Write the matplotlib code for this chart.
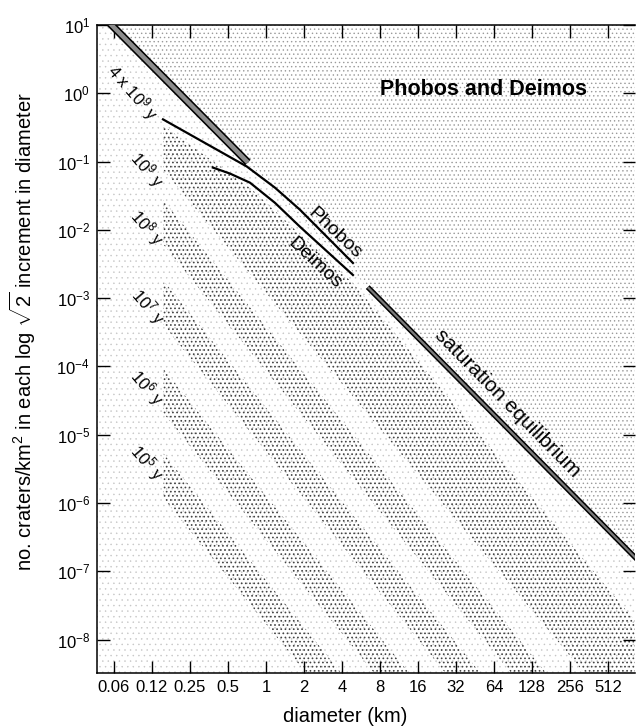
import matplotlib
matplotlib.use("Agg")
import matplotlib.pyplot as plt
import numpy as np
from matplotlib.ticker import NullLocator

plt.rcParams['font.family'] = ['Liberation Sans', 'DejaVu Sans']
plt.rcParams['mathtext.fontset'] = 'custom'
plt.rcParams['mathtext.rm'] = 'Liberation Sans'
plt.rcParams['mathtext.it'] = 'Liberation Sans:italic'
plt.rcParams['mathtext.bf'] = 'Liberation Sans:bold'

# axis ticks
diam_ticks = [0.0625, 0.125, 0.25, 0.5, 1, 2, 4, 8, 16, 32, 64, 128, 256, 512]
diam_labels = ['0.06', '0.12', '0.25', '0.5', '1', '2', '4', '8',
               '16', '32', '64', '128', '256', '512']
dens_exp = [1, 0, -1, -2, -3, -4, -5, -6, -7, -8]

# saturation equilibrium line (km, craters/km^2)
sat_D = [0.045, 0.72, 6.4, 900]
sat_N = [17, 0.097, 1.45e-3, 1.4e-7]

# observed curves
phobos_D = [0.153, 0.707, 1.178, 1.86, 4.89]
phobos_N = [0.415, 0.0844, 0.0415, 0.0197, 0.00327]
deimos_D = [0.380, 0.519, 0.747, 1.178, 1.86, 4.89]
deimos_N = [0.0816, 0.0667, 0.0491, 0.0249, 0.0111, 0.00218]

# isochron bands: upper and lower edges
band_ages = ['1e9', '1e8', '1e7', '1e6', '1e5']
band_up_D = [[0.153, 0.747, 4.89, 2900], [0.153, 256], [0.153, 77], [0.153, 21], [0.153, 6.1]]
band_up_N = [[0.338, 0.0415, 1.66e-3, 1.2e-9], [0.0276, 1.2e-9], [1.84e-3, 1.2e-9],
             [9.35e-5, 1.2e-9], [5.4e-6, 1.2e-9]]
band_lo_D = [[0.153, 2900], [0.153, 256], [0.153, 77], [0.153, 21], [0.153, 6.1]]
band_lo_N = [[0.0762, 2.7e-11], [6.2e-3, 2.8e-10], [4.15e-4, 2.8e-10],
             [2.1e-5, 2.8e-10], [1.2e-6, 2.8e-10]]

# age labels
age_text = [r'4 x 10$^{9}$ y', r'10$^{9}$ y', r'10$^{8}$ y', r'10$^{7}$ y', r'10$^{6}$ y', r'10$^{5}$ y']
age_D = [0.0884, 0.114, 0.114, 0.116, 0.114, 0.114]
age_N = [1.03, 0.0762, 0.0107, 7.4e-4, 4.8e-5, 3.9e-6]

fig = plt.figure(figsize=(6.37, 7.28), dpi=100)
ax = fig.add_axes([97 / 637, 55 / 728, 538 / 637, 648 / 728])
ax.set_xscale('log', base=2)
ax.set_yscale('log')
ax.set_xlim(0.0459, 838)
ax.set_ylim(10 ** -8.49, 10)

# stipple background
plt.rcParams['hatch.linewidth'] = 0.5
ax.fill_between(sat_D, sat_N, 100, facecolor='none', edgecolor='#9a9a9a',
                hatch='....', linewidth=0, zorder=0)
plt.rcParams['hatch.linewidth'] = 0.3
ax.fill_between(sat_D, 1e-12, sat_N, facecolor='none', edgecolor='#c4c4c4',
                hatch='...', linewidth=0, zorder=0)

plt.rcParams['hatch.linewidth'] = 0.7
for i in range(len(band_ages)):
    poly_D = np.concatenate([band_up_D[i], band_lo_D[i][::-1]])
    poly_N = np.concatenate([band_up_N[i], band_lo_N[i][::-1]])
    ax.fill(poly_D, poly_N, facecolor='none', edgecolor='#444444',
            hatch='....', linewidth=0, zorder=1)

# saturation line, drawn in two pieces
ax.plot(sat_D[:2], sat_N[:2], color='black', lw=5.5, solid_capstyle='butt', zorder=3)
ax.plot(sat_D[:2], sat_N[:2], color='#8c8c8c', lw=3.2, solid_capstyle='butt', zorder=3)
ax.plot(sat_D[2:], sat_N[2:], color='black', lw=3.8, solid_capstyle='butt', zorder=3)
ax.plot(sat_D[2:], sat_N[2:], color='#7a7a7a', lw=1.6, solid_capstyle='butt', zorder=3)

ax.plot(phobos_D, phobos_N, color='black', lw=1.6, zorder=3)
ax.plot(deimos_D, deimos_N, color='black', lw=1.6, zorder=3)

ax.text(3.52, 9.0e-3, 'Phobos', rotation=-43, fontsize=14, ha='center', va='center')
ax.text(2.44, 3.27e-3, 'Deimos', rotation=-43, fontsize=14, ha='center', va='center')
ax.text(82.6, 2.86e-5, 'saturation equilibrium', rotation=-45.5, fontsize=15,
        ha='center', va='center')
ax.text(0.719, 0.900, 'Phobos and Deimos', transform=ax.transAxes, fontsize=15.5,
        fontweight='bold', ha='center', va='center')
for t, d, n in zip(age_text, age_D, age_N):
    ax.text(d, n, t, rotation=-49, fontsize=12, ha='center', va='center')

ax.set_xticks(diam_ticks, diam_labels)
ax.set_yticks([10.0 ** e for e in dens_exp], [r'$10^{%d}$' % e for e in dens_exp])
ax.xaxis.set_minor_locator(NullLocator())
ax.yaxis.set_minor_locator(NullLocator())
ax.tick_params(which='major', direction='in', length=9, width=1.0,
               top=True, right=True, labelsize=12, pad=5)
for s in ['left', 'bottom', 'top']:
    ax.spines[s].set_linewidth(1.1)
ax.spines['right'].set_visible(False)

ax.set_xlabel('diameter (km)', fontsize=14.5)
ax.xaxis.set_label_coords(0.461, -0.052)
ax.set_ylabel(r'no. craters/km$^2$ in each log $\sqrt{2}$ increment in diameter', fontsize=14.5)
ax.yaxis.set_label_coords(-0.11, 0.526)

fig.savefig('out.png', dpi=100)
